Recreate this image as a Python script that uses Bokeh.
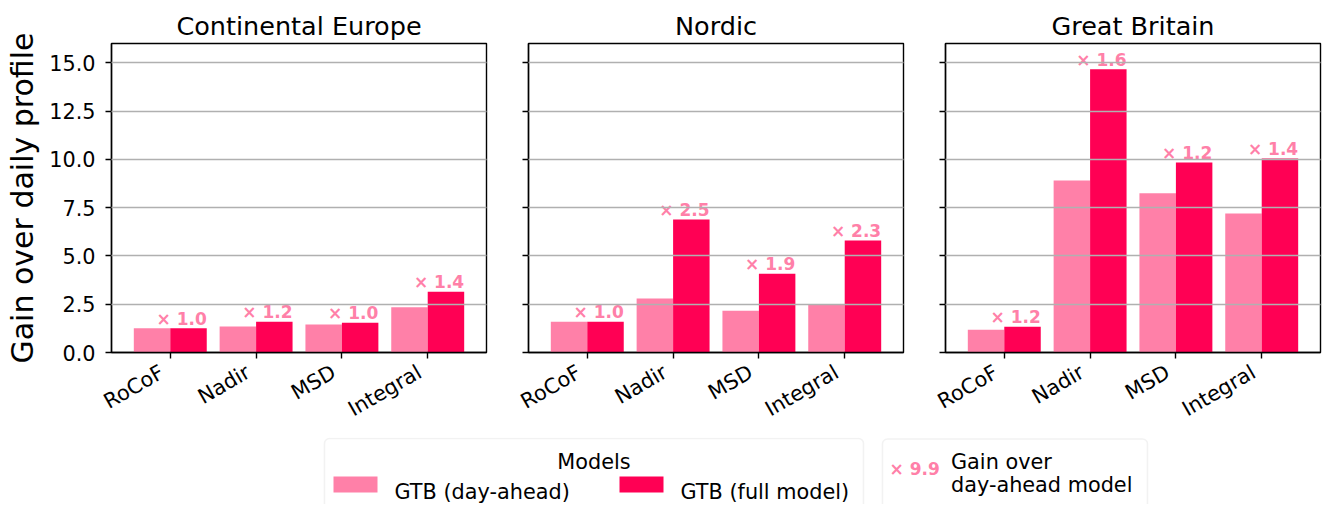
import math
from bokeh.plotting import figure
from bokeh.layouts import column, row
from bokeh.models import (Range1d, FixedTicker, PrintfTickFormatter, ColumnDataSource,
                          Label, BoxAnnotation)
from bokeh.embed import file_html
from bokeh.resources import INLINE

# ---------------- data ----------------
regions = ["Continental Europe", "Nordic", "Great Britain"]
metrics = ["RoCoF", "Nadir", "MSD", "Integral"]

day_ahead_ce = [1.25, 1.35, 1.45, 2.34]
full_ce = [1.25, 1.59, 1.54, 3.15]
gain_ce = ["1.0", "1.2", "1.0", "1.4"]

day_ahead_no = [1.59, 2.79, 2.16, 2.51]
full_no = [1.59, 6.89, 4.08, 5.80]
gain_no = ["1.0", "2.5", "1.9", "2.3"]

day_ahead_gb = [1.18, 8.91, 8.24, 7.20]
full_gb = [1.33, 14.67, 9.84, 10.05]
gain_gb = ["1.2", "1.6", "1.2", "1.4"]

y_ticks = [0, 2.5, 5, 7.5, 10, 12.5, 15]
y_label = "Gain over daily profile"
series_names = ["GTB (day-ahead)", "GTB (full model)"]
legend_title = "Models"
gain_legend_sample = "× 9.9"
gain_legend_text = ["Gain over", "day-ahead model"]

# ---------------- style ----------------
FONT = "DejaVu Sans"
LIGHT = "#ff80a8"
DARK = "#ff0054"
GRID = "#b0b0b0"
BAR_W = 0.425
LABEL_SHIFT = -0.09375   # rotated category labels sit slightly left of their tick
FRAME_W = 375
FRAME_H = 309
TOP_H = 437
TICK_FS = "20.8px"


def make_panel(title, da, full, gains, left, right, show_ylabels):
    p = figure(frame_width=FRAME_W, frame_height=FRAME_H, output_backend="svg",
               toolbar_location=None, x_range=Range1d(-0.685, 3.685),
               y_range=Range1d(0, 16), min_border_left=left, min_border_right=right,
               min_border_top=43, min_border_bottom=TOP_H - 43 - FRAME_H)
    idx = list(range(len(metrics)))
    src = ColumnDataSource(dict(
        x_da=[i - BAR_W / 2 for i in idx],
        x_full=[i + BAR_W / 2 for i in idx],
        da=da, full=full,
        lab_x=[i + BAR_W for i in idx],
        lab_y=[f + 0.5 for f in full],
        lab=["× " + g for g in gains],
    ))
    p.vbar(x="x_da", top="da", bottom=0, width=BAR_W, source=src,
           fill_color=LIGHT, line_color=None)
    p.vbar(x="x_full", top="full", bottom=0, width=BAR_W, source=src,
           fill_color=DARK, line_color=None)
    p.text(x="lab_x", y="lab_y", text="lab", source=src, text_align="right",
           text_baseline="alphabetic", text_font={"value": FONT},
           text_font_style="bold", text_font_size="17px", text_color=LIGHT)

    # title
    p.title.text = title
    p.title.align = "center"
    p.title.text_font = FONT
    p.title.text_font_size = "25.5px"
    p.title.text_font_style = "normal"
    p.title.text_color = "black"
    p.title.standoff = 5

    # frame
    p.outline_line_color = "black"
    p.outline_line_width = 1.4
    p.background_fill_color = "white"
    p.border_fill_color = "white"

    # grid (drawn over the bars, as in the reference)
    p.xgrid.visible = False
    p.ygrid.grid_line_color = GRID
    p.ygrid.grid_line_width = 1.3
    p.ygrid.level = "overlay"
    p.ygrid.ticker = FixedTicker(ticks=y_ticks)

    # x axis: tick marks (minor) at bar groups, labels (major) slightly left
    xa = p.xaxis[0]
    label_pos = [i + LABEL_SHIFT for i in idx]
    xa.ticker = FixedTicker(ticks=label_pos, minor_ticks=idx)
    xa.major_label_overrides = {pos: m for pos, m in zip(label_pos, metrics)}
    xa.major_label_orientation = math.pi / 6
    xa.major_label_text_font = FONT
    xa.major_label_text_font_size = TICK_FS
    xa.major_label_text_color = "black"
    xa.major_label_standoff = 12
    xa.major_tick_out = 0
    xa.major_tick_in = 0
    xa.major_tick_line_color = None
    xa.minor_tick_out = 6
    xa.minor_tick_in = 0
    xa.minor_tick_line_color = "black"
    xa.minor_tick_line_width = 1.4
    xa.axis_line_color = "black"
    xa.axis_line_width = 1.4

    # y axis
    ya = p.yaxis[0]
    ya.axis_line_color = "black"
    ya.axis_line_width = 1.4
    ya.major_label_text_font = FONT
    ya.major_label_text_color = "black"
    ya.major_label_text_font_size = TICK_FS
    if show_ylabels:
        ya.ticker = FixedTicker(ticks=y_ticks)
        ya.formatter = PrintfTickFormatter(format="%.1f")
        ya.major_tick_out = 6
        ya.major_tick_in = 0
        ya.minor_tick_out = 0
        ya.minor_tick_in = 0
        ya.major_tick_line_width = 1.4
        ya.major_label_standoff = 10
        ya.axis_label = y_label
        ya.axis_label_text_font = FONT
        ya.axis_label_text_font_size = "30px"
        ya.axis_label_text_font_style = "normal"
        ya.axis_label_text_color = "black"
        ya.axis_label_standoff = 6
    else:
        # shared y: tick marks only, no labels
        ya.ticker = FixedTicker(ticks=[], minor_ticks=y_ticks)
        ya.major_tick_out = 0
        ya.major_tick_in = 0
        ya.minor_tick_out = 6
        ya.minor_tick_in = 0
        ya.minor_tick_line_color = "black"
        ya.minor_tick_line_width = 1.4
    return p


p1 = make_panel(regions[0], day_ahead_ce, full_ce, gain_ce, 111, 21, True)
p2 = make_panel(regions[1], day_ahead_no, full_no, gain_no, 21, 21, False)
p3 = make_panel(regions[2], day_ahead_gb, full_gb, gain_gb, 21, 2, False)

# ---------------- legend strip ----------------
LG_W, LG_H = 1322, 504 - TOP_H
lg = figure(frame_width=LG_W, frame_height=LG_H, output_backend="svg", toolbar_location=None,
            x_range=Range1d(0, LG_W), y_range=Range1d(LG_H, 0),
            min_border=0, x_axis_location=None, y_axis_location=None)
lg.grid.visible = False
lg.outline_line_color = None

frame_kw = dict(fill_color="white", fill_alpha=1, line_color="#d4d4d4",
                line_width=1.6, border_radius=5)
lg.add_layout(BoxAnnotation(left=324, right=863, top=1, bottom=95, **frame_kw))
lg.add_layout(BoxAnnotation(left=882, right=1147, top=1.5, bottom=95, **frame_kw))

txt = dict(text_font=FONT, text_font_size="20.8px", text_color="black",
           text_baseline="alphabetic")
lg.add_layout(Label(x=593.5, y=24, text=legend_title, text_align="center", **txt))
for x0, color, name in zip([333, 619], [LIGHT, DARK], series_names):
    lg.add_layout(BoxAnnotation(left=x0, right=x0 + 44, top=39, bottom=55,
                                fill_color=color, fill_alpha=1, line_color=None))
    lg.add_layout(Label(x=x0 + 61, y=54.5, text=name, text_align="left", **txt))

lg.add_layout(Label(x=889, y=31, text=gain_legend_sample, text_align="left",
                    text_baseline="middle", text_font=FONT, text_font_size="17px",
                    text_font_style="bold", text_color=LIGHT))
lg.add_layout(Label(x=950.5, y=24, text=gain_legend_text[0], text_align="left", **txt))
lg.add_layout(Label(x=950.5, y=47, text=gain_legend_text[1], text_align="left", **txt))

layout = column(row(p1, p2, p3, spacing=0), lg, spacing=0)

open("out.html", "w").write(file_html(layout, INLINE))
